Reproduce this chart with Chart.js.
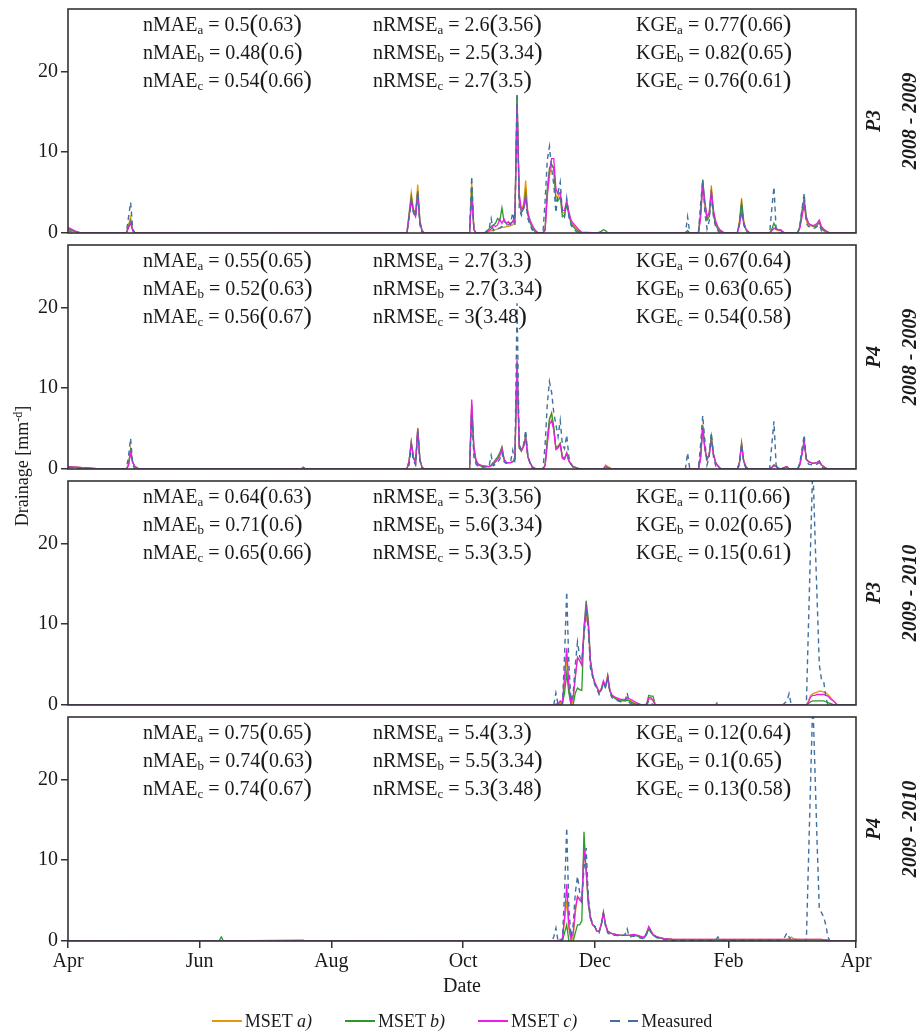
<!DOCTYPE html>
<html>
<head>
<meta charset="utf-8">
<script src="https://cdn.jsdelivr.net/npm/chart.js@4/dist/chart.umd.min.js"></script>
<style>
  body { margin: 0; background: #fff; }
  #wrap { position: relative; width: 921px; height: 1032px; overflow: hidden; font-family: 'Liberation Serif', serif; color: #1a1a1a; }
  canvas { position: absolute; left: 0; }
  .stat { position: absolute; font-size: 20px; line-height: 28px; white-space: nowrap; }
  .stat sub { font-size: 13px; vertical-align: -3px; line-height: 0; }
  .par { font-size: 26px; line-height: 0; vertical-align: -1px; }
  .rot { position: absolute; width: 200px; height: 24px; line-height: 24px; text-align: center; transform: rotate(-90deg); white-space: nowrap; }
  .side { font-weight: bold; font-style: italic; font-size: 20px; }
  .ytitle { font-size: 18px; }
  .ytitle sup { font-size: 12px; vertical-align: 6px; line-height: 0; }
  #legend { position: absolute; left: 68px; width: 788px; top: 1009px; height: 24px; display: flex; justify-content: center; align-items: center; gap: 33px; font-size: 18px; }
  #legend .item { display: flex; align-items: center; gap: 3px; }
  #legend .sw { width: 30px; height: 2px; display: inline-block; }
</style>
</head>
<body>
<div id="wrap"></div>
<script>
// x axis: days since 1 April
const xTickDays = [0, 61, 122, 183, 244, 306, 365];
const xTickLabels = ['Apr', 'Jun', 'Aug', 'Oct', 'Dec', 'Feb', 'Apr'];
const yTicks = [0, 10, 20];
const yMax = 27.7;

const seriesLabels = ['MSET', 'MSET', 'MSET', 'Measured'];
const seriesTags = ['a)', 'b)', 'c)', ''];
const seriesColors = ['#E8960C', '#2A9A2A', '#EE1BEE', '#40709F'];

// ---- P3 2008-2009 ----
const p3a_days = [0,3,6,27, 29,30,31, 157,159,160,161,162,163,164,165, 186,187,188,189,
  193,195,196,197,198,199,200,201,202,203,204,205,206,207,
  208,209,210,211,212,213,214,215,216,217,218,
  220,221,222,223,224,225,226,227,228,229,230,231,232,233,234,235,236,237,238,
  245,247,248,249,250, 286,287,288,
  292,293,294,295,296,297,298,299,300,301,302,303,304,
  310,311,312,313,314,315,316, 325,326,327,328,329,330,331,332,
  338,339,340,341,342,343,344,345,346,347,348,349,350,351,352,353,365];
const p3a_a = [0.5,0.2,0,0, 2.0,0.3,0, 0,5.0,3.0,2.5,6.0,1.5,0.3,0, 0,6.3,0.5,0,
  0,0.2,0.3,0.3,0.4,0.5,0.6,0.7,0.7,0.8,0.8,0.9,1.0,1.5,
  16.5,3.9,3.0,3.5,6.5,2.5,1.5,0.8,0.4,0,0,
  0,0.5,5.0,7.0,8.3,8.0,4.5,4.5,5.0,2.5,2.5,4.0,2.5,1.5,1.0,0.7,0.4,0.2,0,
  0,0,0,0,0, 0,0,0,
  0,2.0,6.0,3.5,1.8,2.5,5.9,2.5,1.2,0.6,0.3,0.1,0,
  0,1.5,4.3,1.5,0.5,0.1,0, 0,0.3,0.6,0.4,0.3,0.3,0.1,0,
  0,0.8,2.5,3.5,1.5,1.0,0.9,0.8,0.8,1.0,1.4,0.6,0.4,0.2,0.1,0,0];
const p3a_b = [0.5,0.2,0,0, 1.5,0.3,0, 0,4.5,2.8,2.4,5.2,1.5,0.3,0, 0,5.5,0.4,0,
  0,0.5,0.8,1.0,1.2,1.8,1.5,3.1,1.4,1.2,1.3,1.2,1.4,2.0,
  17.0,4.5,2.5,3.0,5.0,2.2,1.3,0.7,0.3,0,0,
  0,0.5,5.5,8.0,8.5,8.0,4.0,4.0,4.5,2.0,2.2,3.5,2.2,1.2,0.8,0.5,0.3,0.1,0,
  0,0.2,0.4,0.3,0, 0,0.3,0,
  0,2.5,6.6,3.8,1.6,2.0,5.3,2.2,1.0,0.5,0.2,0.1,0,
  0,1.2,3.7,1.3,0.4,0.1,0, 0,0.5,1.2,0.6,0.4,0.4,0.1,0,
  0,0.8,2.8,4.3,2.0,1.2,1.0,0.9,0.8,1.0,1.3,0.6,0.3,0.2,0.1,0,0];
const p3a_c = [0.7,0.3,0,0, 1.2,0.3,0, 0,4.1,2.6,2.0,4.8,1.2,0.3,0, 0,4.5,0.5,0,
  0,0.3,0.5,1.0,0.8,1.0,1.7,1.2,1.7,1.2,1.4,1.0,1.5,1.3,
  16.0,4.9,2.8,3.2,4.5,2.5,1.6,1.0,0.5,0.2,0,
  0,0.3,4.5,7.5,9.2,9.2,5.5,4.8,5.0,2.8,2.8,4.0,2.6,1.6,1.2,0.9,0.6,0.3,0.1,
  0,0,0,0,0, 0,0,0,
  0,1.8,5.9,3.8,2.0,2.5,5.1,2.8,1.5,0.8,0.4,0.2,0,
  0,1.0,2.5,1.2,0.5,0.2,0, 0,0.3,0.6,0.5,0.4,0.4,0.2,0,
  0,0.6,2.0,3.5,1.8,1.2,1.0,0.9,1.0,1.2,1.6,0.8,0.5,0.3,0.1,0,0];
const p3a_m = [0.3,0,0,0, 3.8,0.5,0, 0,3.8,2.5,2.0,5.1,1.0,0,0, 0,7.0,0.3,0,
  0,0.5,1.8,0.3,0.5,0.5,0.6,0.8,0.8,1.0,1.0,1.2,2.5,1.0,
  17.3,3.0,2.2,3.0,4.0,1.8,1.0,0.4,0.1,0,0,
  0,4.0,9.0,10.7,8.0,6.0,2.5,5.0,6.3,2.5,2.0,4.3,2.0,1.0,0.5,0.3,0.1,0,0,
  0,0,0,0,0, 0,2.0,0,
  0,3.5,6.6,2.5,0.5,1.5,4.6,2.0,0.7,0.3,0,0,0,
  0,1.0,3.7,1.0,0.2,0,0, 0,3.0,5.7,0.5,0,0,0,0,
  0,1.0,3.0,4.9,1.2,0.8,0.8,0.6,0.6,0.8,1.0,0.3,0.1,0,0,0,0];

// ---- P4 2008-2009 ----
const p4a_days = [0,5,10,15,27, 28,29,30,31,33, 108,109,110, 157,158,159,160,161,162,163,164,165,
  186,187,188,189,190,192,195,196,197,199,200,201,202,203,205,206,207,
  208,209,210,211,212,213,214,215,216,217,
  220,221,222,223,224,225,226,227,228,229,230,231,232,233,234,236,237,
  248,249,250,252, 286,287,288,
  292,293,294,295,296,297,298,299,300,301,302,303,
  310,311,312,313,314,315, 325,326,327,328,329,330,333,334,
  338,339,340,341,342,343,345,347,348,349,350,351,352,365];
const p4a_a = [0.3,0.2,0.1,0,0, 0.5,2.5,0.8,0.3,0, 0,0.2,0, 0,1.0,3.4,1.5,0.7,5.1,1.2,0.2,0,
  0,8.0,2.5,1.0,0.6,0.4,0.3,0.4,0.6,1.2,1.8,2.7,1.2,0.8,0.8,0.9,1.2,
  13.0,2.6,2.2,2.8,4.0,1.5,0.8,0.3,0.1,0,
  0,0.5,3.5,6.0,6.9,5.0,2.6,2.8,3.2,1.5,1.3,2.0,1.0,0.6,0.3,0.1,0,
  0,0.5,0.3,0, 0,0,0,
  0,1.5,5.5,2.5,1.2,1.8,4.0,1.8,0.8,0.4,0.1,0,
  0,0.8,3.3,1.0,0.3,0, 0,0.2,0.5,0.3,0.1,0,0.3,0,
  0,0.6,2.0,3.5,1.2,0.9,0.7,0.8,1.0,0.5,0.3,0.1,0,0];
const p4a_b = [0.3,0.2,0.1,0,0, 0.5,2.3,0.8,0.3,0, 0,0.2,0, 0,1.0,3.3,1.5,0.7,5.0,1.2,0.2,0,
  0,7.8,2.3,0.9,0.5,0.3,0.3,0.5,0.8,1.5,2.0,2.7,1.2,0.8,0.8,0.9,1.2,
  13.2,2.6,2.2,2.8,4.0,1.5,0.8,0.3,0.1,0,
  0,0.5,3.7,6.2,6.9,5.2,2.6,2.8,3.2,1.5,1.3,2.0,1.0,0.6,0.3,0.1,0,
  0,0.3,0.2,0, 0,0,0,
  0,1.5,5.3,2.5,1.2,1.8,4.0,1.8,0.8,0.4,0.1,0,
  0,0.8,3.2,1.0,0.3,0, 0,0.2,0.5,0.3,0.1,0,0.3,0,
  0,0.6,2.0,3.5,1.2,0.9,0.7,0.8,1.0,0.5,0.3,0.1,0,0];
const p4a_c = [0.3,0.2,0.1,0,0, 0.4,2.0,0.8,0.3,0, 0,0.2,0, 0,1.0,3.2,1.4,0.7,4.9,1.1,0.2,0,
  0,8.6,2.8,1.1,0.6,0.4,0.3,0.4,0.6,1.2,1.6,2.5,1.1,0.8,0.8,0.9,1.1,
  13.5,2.8,2.3,2.8,3.8,1.5,0.8,0.3,0.1,0,
  0,0.4,3.0,5.5,6.0,4.8,2.4,2.6,3.0,1.3,1.2,1.9,1.0,0.6,0.3,0.1,0,
  0,0.3,0.2,0, 0,0,0,
  0,1.2,5.0,2.5,1.2,1.8,3.5,1.8,0.8,0.4,0.1,0,
  0,0.7,3.0,0.9,0.3,0, 0,0.2,0.4,0.3,0.1,0,0.3,0,
  0,0.5,1.8,3.3,1.2,0.9,0.7,0.8,1.0,0.5,0.3,0.1,0,0];
const p4a_m = [0.2,0.1,0,0,0, 1.5,3.8,0.5,0,0, 0,0,0, 0,0.5,2.8,1.0,0.5,4.6,1.0,0,0,
  0,6.8,1.5,0.6,0.3,0.2,0.3,1.7,0.4,0.8,1.2,2.0,0.9,0.7,0.9,2.3,0.8,
  20.5,3.0,2.4,3.0,4.8,1.8,0.6,0.1,0,0,
  0,3.0,8.0,10.8,9.5,7.0,5.5,4.0,6.0,3.0,2.5,4.2,1.5,0.6,0.2,0,0,
  0,0,0,0, 0,2.0,0,
  0,3.0,6.6,3.5,0.5,1.5,4.5,1.5,0.4,0,0,0,
  0,0.5,3.0,0.8,0.1,0, 0,3.0,5.9,0.5,0,0,0,0,
  0,0.8,2.5,4.2,1.0,0.6,0.5,0.6,0.8,0.3,0.1,0,0,0];

// ---- P3 2009-2010 ----
const p3b_days = [0,225,226,227,228,229, 230,231,232,233,234,235,236,237,238,
  239,240,241,242,243,244,245,246,247,248,249,250,251,252,
  254,256,258,259,260,262,264,266, 268,269,270,271,272, 300,301,302, 331,333,334,335,
  341,342,343,344,345,346,347,348,349,350,351,352,353,354,355,356,357,365];
const p3b_a = [0,0,0,0,0.3,0.2, 2.5,6.0,2.0,0,0.5,3.5,5.8,5.5,5.0,
  9.0,11.1,9.7,5.0,3.7,2.7,2.2,1.5,2.0,2.9,2.3,3.7,1.8,1.2,
  0.8,0.6,0.6,0.8,0.6,0.3,0.1,0, 0,0.8,0.7,0.5,0, 0,0,0, 0,0,0,0,
  0,0,0.5,1.2,1.4,1.5,1.6,1.7,1.7,1.6,1.5,1.3,1.0,0.7,0.4,0.1,0,0];
const p3b_b = [0,0,0,0,0.1,0.1, 1.5,3.9,1.5,0,0,1.5,2.1,1.9,1.8,
  9.5,12.9,10.6,5.5,3.7,2.7,2.2,1.5,1.8,2.8,2.2,3.4,1.7,1.1,
  0.7,0.5,0.5,0.6,0.5,0.2,0,0, 0.1,1.2,1.1,1.1,0, 0,0,0, 0,0,0,0,
  0,0,0.2,0.4,0.5,0.5,0.5,0.5,0.5,0.5,0.4,0.3,0.2,0.1,0,0,0,0];
const p3b_c = [0,0,0.1,0.2,0.5,0.3, 3.5,7.0,2.5,0.2,1.0,3.5,5.9,5.5,4.9,
  9.5,12.1,10.0,5.5,3.7,2.8,2.2,1.6,2.0,3.0,2.3,3.6,1.8,1.2,
  0.9,0.7,0.7,0.9,0.8,0.5,0.2,0, 0,0.9,0.9,0.6,0, 0,0,0, 0,0,0,0,
  0,0,0.4,1.0,1.2,1.2,1.3,1.3,1.3,1.3,1.2,1.1,0.8,0.6,0.4,0.1,0,0];
const p3b_m = [0,0,1.5,0,0,0, 6.0,14.0,5.0,0.5,1.5,5.0,7.8,6.0,5.5,
  8.5,11.5,9.5,4.5,3.5,2.5,2.0,1.3,1.8,2.8,2.0,3.5,1.5,0.9,
  0.6,0.4,0.4,1.5,0.3,0,0,0, 0,0.5,0.3,0,0, 0,0.4,0, 0,0.5,1.4,0,
  0,0,10,20,30,21,13,5,3.2,3.0,1.0,0,0,0,0,0,0,0];

// ---- P4 2009-2010 ----
const p4b_days = [0,70,71,72,109,110,
  224,225,226,227,229,230,231,232,233,234,235,236,237,238,
  239,240,241,242,243,244,245,246,247,248,249,250,
  252,254,256,258,259,260,262,264,266,267,268,269,270,271,273,276,280,
  300,301,302,330,332,333,334,335,336,338,
  342,343,344,345,346,347,348,349,350,351,352,353,355,365];
const p4b_a = [0,0,0,0,0,0,
  0,0,0,0,0.2,2.5,5.0,1.5,0,0.5,3.5,5.5,5.0,4.8,
  11.0,9.0,5.0,2.8,2.0,1.8,1.2,1.2,2.0,3.5,2.0,1.2,
  0.9,0.8,0.7,0.7,0.7,0.7,0.8,0.6,0.4,0.5,1.0,1.7,1.2,0.8,0.5,0.3,0.2,
  0.2,0.2,0.2,0.2,0.2,0.2,0.3,0.5,0.3,0.2,
  0.2,0.2,0.2,0.2,0.2,0.2,0.2,0.2,0.15,0.1,0.1,0.05,0,0];
const p4b_b = [0,0,0.5,0,0,0,
  0,0,0,0,0,1.0,2.0,0,0,0,1.0,2.0,2.0,2.5,
  13.5,8.5,4.5,2.8,2.0,1.8,1.2,1.2,2.0,3.6,2.0,1.2,
  0.9,0.8,0.7,0.7,0.7,0.7,0.7,0.6,0.4,0.4,0.8,1.5,1.1,0.7,0.4,0.3,0.2,
  0.15,0.15,0.15,0.15,0.15,0.15,0.15,0.15,0.15,0.15,
  0.15,0.15,0.15,0.15,0.15,0.15,0.15,0.15,0.1,0.1,0.1,0.05,0,0];
const p4b_c = [0,0,0,0,0.1,0,
  0,0,0,0,0.3,3.0,7.0,2.0,0.3,1.0,4.0,5.5,5.2,4.8,
  11.3,9.0,5.0,2.8,2.0,1.8,1.2,1.2,2.0,3.5,2.0,1.2,
  0.9,0.8,0.7,0.7,0.7,0.7,0.8,0.7,0.5,0.5,1.0,1.8,1.3,0.8,0.5,0.3,0.2,
  0.2,0.2,0.2,0.2,0.2,0.2,0.2,0.2,0.2,0.2,
  0.2,0.2,0.2,0.2,0.2,0.2,0.2,0.2,0.15,0.1,0.1,0.05,0,0];
const p4b_m = [0,0,0,0,0,0,
  0,0.5,1.6,0,0,6.0,14.0,4.0,0.5,2.0,6.0,8.0,6.0,5.0,
  9.0,11.5,5.5,3.0,2.2,1.8,1.2,1.0,2.0,3.3,1.8,1.0,
  0.7,0.7,0.6,0.8,1.5,0.5,0.6,0.5,0.3,0.3,0.9,1.6,1.1,0.7,0.4,0.2,0.1,
  0.1,0.5,0.1,0.1,0.5,1.0,0.5,0,0,0,
  0,10,20,30,21,12,4,3.5,3.0,2.0,0.5,0,0,0];

// ---- goodness-of-fit stats: value (reference) ----
const p3a_nMAE = [0.5, 0.48, 0.54],  p3a_nMAEref = [0.63, 0.6, 0.66];
const p3a_nRMSE = [2.6, 2.5, 2.7],   p3a_nRMSEref = [3.56, 3.34, 3.5];
const p3a_KGE = [0.77, 0.82, 0.76],  p3a_KGEref = [0.66, 0.65, 0.61];
const p4a_nMAE = [0.55, 0.52, 0.56], p4a_nMAEref = [0.65, 0.63, 0.67];
const p4a_nRMSE = [2.7, 2.7, 3],     p4a_nRMSEref = [3.3, 3.34, 3.48];
const p4a_KGE = [0.67, 0.63, 0.54],  p4a_KGEref = [0.64, 0.65, 0.58];
const p3b_nMAE = [0.64, 0.71, 0.65], p3b_nMAEref = [0.63, 0.6, 0.66];
const p3b_nRMSE = [5.3, 5.6, 5.3],   p3b_nRMSEref = [3.56, 3.34, 3.5];
const p3b_KGE = [0.11, 0.02, 0.15],  p3b_KGEref = [0.66, 0.65, 0.61];
const p4b_nMAE = [0.75, 0.74, 0.74], p4b_nMAEref = [0.65, 0.63, 0.67];
const p4b_nRMSE = [5.4, 5.5, 5.3],   p4b_nRMSEref = [3.3, 3.34, 3.48];
const p4b_KGE = [0.12, 0.1, 0.13],   p4b_KGEref = [0.64, 0.65, 0.58];

const panels = [
  { plot: 'P3', season: '2008 - 2009', days: p3a_days, series: [p3a_a, p3a_b, p3a_c, p3a_m],
    stats: [[p3a_nMAE, p3a_nMAEref], [p3a_nRMSE, p3a_nRMSEref], [p3a_KGE, p3a_KGEref]] },
  { plot: 'P4', season: '2008 - 2009', days: p4a_days, series: [p4a_a, p4a_b, p4a_c, p4a_m],
    stats: [[p4a_nMAE, p4a_nMAEref], [p4a_nRMSE, p4a_nRMSEref], [p4a_KGE, p4a_KGEref]] },
  { plot: 'P3', season: '2009 - 2010', days: p3b_days, series: [p3b_a, p3b_b, p3b_c, p3b_m],
    stats: [[p3b_nMAE, p3b_nMAEref], [p3b_nRMSE, p3b_nRMSEref], [p3b_KGE, p3b_KGEref]] },
  { plot: 'P4', season: '2009 - 2010', days: p4b_days, series: [p4b_a, p4b_b, p4b_c, p4b_m],
    stats: [[p4b_nMAE, p4b_nMAEref], [p4b_nRMSE, p4b_nRMSEref], [p4b_KGE, p4b_KGEref]] },
];
const statNames = ['nMAE', 'nRMSE', 'KGE'];
const statCols = [143, 373, 636];
const subs = ['a', 'b', 'c'];

// layout
const PLOT_LEFT = 68, PLOT_RIGHT = 856, PANEL_TOP = 9, PANEL_H = 224, PANEL_STEP = 236, X_AXIS_H = 62;
const wrap = document.getElementById('wrap');
const FONT = "'Liberation Serif', serif";

const frame = {
  id: 'frame',
  afterDatasetsDraw(chart) {
    const { ctx, chartArea: a } = chart;
    ctx.save();
    ctx.strokeStyle = '#333';
    ctx.lineWidth = 1.6;
    ctx.strokeRect(a.left, a.top, a.right - a.left, a.bottom - a.top);
    ctx.restore();
  }
};

panels.forEach((p, i) => {
  const last = i === panels.length - 1;
  const top = PANEL_TOP + PANEL_STEP * i;
  const cv = document.createElement('canvas');
  const h = last ? 20 + PANEL_H + X_AXIS_H : PANEL_H + 40;
  cv.width = 921; cv.height = h;
  cv.style.top = (top - 20) + 'px';
  wrap.appendChild(cv);

  const datasets = p.series.map((vals, k) => ({
    label: seriesLabels[k] + ' ' + seriesTags[k],
    data: p.days.map((d, j) => ({ x: d, y: vals[j] })),
    borderColor: seriesColors[k],
    borderWidth: k === 3 ? 1.4 : 1.3,
    borderDash: k === 3 ? [5, 4] : [],
    pointRadius: 0,
    tension: 0,
    order: 4 - k,
  }));

  new Chart(cv, {
    type: 'line',
    data: { datasets },
    plugins: [frame],
    options: {
      responsive: false,
      animation: false,
      events: [],
      layout: { padding: { top: 20, bottom: last ? 0 : 20, left: 0, right: 921 - PLOT_RIGHT } },
      plugins: { legend: { display: false }, tooltip: { enabled: false } },
      scales: {
        x: {
          type: 'linear', min: 0, max: 365,
          display: last,
          afterBuildTicks: s => { s.ticks = xTickDays.map(v => ({ value: v })); },
          afterFit: s => { if (last) s.height = X_AXIS_H; },
          ticks: {
            autoSkip: false, maxRotation: 0, padding: 2,
            color: '#1a1a1a', font: { family: FONT, size: 20 },
            callback: v => xTickLabels[xTickDays.indexOf(v)]
          },
          grid: { drawOnChartArea: false, drawTicks: true, tickLength: 7, color: '#333', lineWidth: 1.5 },
          border: { display: false },
          title: { display: true, text: 'Date', color: '#1a1a1a', font: { family: FONT, size: 20 }, padding: { top: 0, bottom: 4 } }
        },
        y: {
          min: 0, max: yMax,
          afterBuildTicks: s => { s.ticks = yTicks.map(v => ({ value: v })); },
          afterFit: s => { s.width = PLOT_LEFT; },
          ticks: { padding: 3, color: '#1a1a1a', font: { family: FONT, size: 20 } },
          grid: { drawOnChartArea: false, drawTicks: true, tickLength: 7, color: '#333', lineWidth: 1.5 },
          border: { display: false }
        }
      }
    }
  });

  // stats text
  p.stats.forEach(([vals, refs], c) => {
    const div = document.createElement('div');
    div.className = 'stat';
    div.style.left = statCols[c] + 'px';
    div.style.top = (top + 1) + 'px';
    div.innerHTML = vals.map((v, r) =>
      `${statNames[c]}<sub>${subs[r]}</sub> = ${v}<span class="par">(</span>${refs[r]}<span class="par">)</span>`
    ).join('<br>');
    wrap.appendChild(div);
  });

  // side labels
  const cy = top + PANEL_H / 2;
  [[p.plot, 873], [p.season, 909]].forEach(([txt, cx]) => {
    const d = document.createElement('div');
    d.className = 'rot side';
    d.style.left = (cx - 100) + 'px';
    d.style.top = (cy - 12) + 'px';
    d.textContent = txt;
    wrap.appendChild(d);
  });
});

// y axis title
const yt = document.createElement('div');
yt.className = 'rot ytitle';
yt.style.left = (22 - 100) + 'px';
yt.style.top = (466 - 12) + 'px';
yt.innerHTML = 'Drainage [mm<sup>-d</sup>]';
wrap.appendChild(yt);

// legend
const lg = document.createElement('div');
lg.id = 'legend';
seriesLabels.forEach((name, k) => {
  const it = document.createElement('span');
  it.className = 'item';
  const sw = document.createElement('span');
  sw.className = 'sw';
  sw.style.background = k === 3
    ? `repeating-linear-gradient(to right, ${seriesColors[k]} 0 10px, transparent 10px 18px)`
    : seriesColors[k];
  if (k === 3) sw.style.width = '28px';
  const tx = document.createElement('span');
  tx.innerHTML = seriesTags[k] ? `${name} <i>${seriesTags[k]}</i>` : name;
  it.appendChild(sw); it.appendChild(tx);
  lg.appendChild(it);
});
wrap.appendChild(lg);
</script>
</body>
</html>
